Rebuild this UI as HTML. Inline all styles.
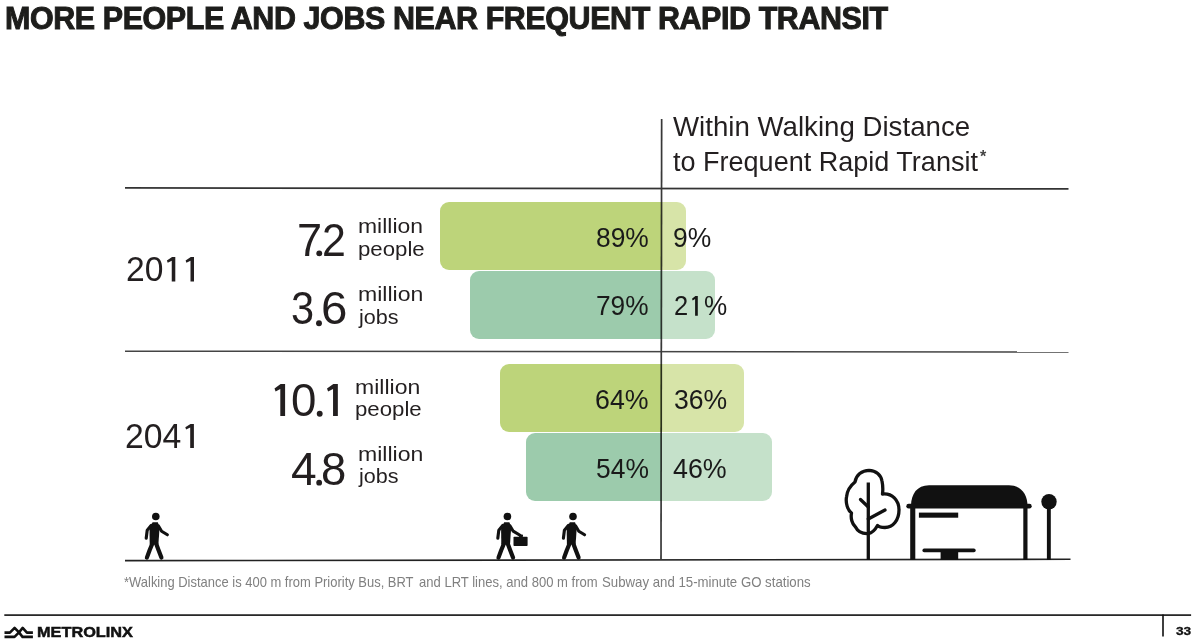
<!DOCTYPE html>
<html><head><meta charset="utf-8">
<style>
html,body{margin:0;padding:0;background:#fff;}
body{width:1200px;height:642px;position:relative;overflow:hidden;font-family:"Liberation Sans",sans-serif;color:#231f20;}
.t{position:absolute;white-space:nowrap;line-height:1;transform-origin:0 0;}
.b{font-weight:bold;}
.bar{position:absolute;height:68px;border-radius:9px;overflow:hidden;}
svg{position:absolute;left:0;top:0;}
</style></head><body>
<div class="bar" style="left:440px;top:201.5px;width:246px;background:linear-gradient(to right,#bdd47a 0 221px,#d7e4a8 221px);"></div>
<div class="bar" style="left:470px;top:270.5px;width:245px;background:linear-gradient(to right,#9ccbac 0 191px,#c5e1ca 191px);"></div>
<div class="bar" style="left:499.5px;top:364px;width:244.5px;background:linear-gradient(to right,#bdd47a 0 162px,#d7e4a8 162px);"></div>
<div class="bar" style="left:526px;top:433px;width:246px;background:linear-gradient(to right,#9ccbac 0 135px,#c5e1ca 135px);"></div>
<svg width="1200" height="642" viewBox="0 0 1200 642" style="mix-blend-mode:multiply">
  <defs>
    <g id="walker">
      <circle cx="155.8" cy="516.5" r="3.8"/>
      <path d="M152.6 522.3 L157.8 522.3 L159.6 527 L158.4 544.5 L149.7 544.5 L149.5 528.3 Z"/>
      <g fill="none" stroke="#111" stroke-linecap="round" stroke-linejoin="round">
        <polyline points="151.3,525.3 147.2,530.2 146.2,538.3" stroke-width="3.1"/>
        <polyline points="152.6,543 149.6,550.2 146.9,557.6" stroke-width="4.2"/>
        <polyline points="155.9,543 158.6,550.2 161.4,557.6" stroke-width="4.2"/>
      </g>
    </g>
  </defs>
  <g fill="#111" stroke="#111">
    <line x1="125" y1="187.9" x2="1068.5" y2="188.85" stroke="#333" stroke-width="1.75"/>
    <line x1="125" y1="351.25" x2="1068.5" y2="352.0" stroke="#444" stroke-width="1.5"/>
    <line x1="125" y1="560.65" x2="1070.5" y2="559.3" stroke="#222" stroke-width="1.6"/>
    <line x1="661.65" y1="119" x2="661.0" y2="560" stroke="#383838" stroke-width="1.7"/>
    <rect x="4.3" y="614.3" width="1186.8" height="1.6" stroke="none" fill="#111"/>
    <rect x="1162.2" y="614.5" width="1.6" height="22" stroke="none"/>

    <!-- walkers -->
    <g stroke="none"><use href="#walker"/></g>
    <polyline points="158.5,526 161.6,531.2 167.4,534.8" fill="none" stroke-width="3.1" stroke-linecap="round" stroke-linejoin="round"/>
    <g stroke="none" transform="translate(351.6 0)"><use href="#walker"/></g>
    <polyline points="510.1,526 513.2,531.2 519.6,535" fill="none" stroke-width="3.1" stroke-linecap="round" stroke-linejoin="round"/>
    <rect x="513.5" y="536.7" width="14.1" height="9.3" rx="0.8" stroke="none"/>
    <rect x="519" y="534.6" width="4" height="2.4" rx="0.8" stroke="none"/>
    <g stroke="none" transform="translate(417.2 0)"><use href="#walker"/></g>
    <polyline points="575.7,526 578.8,531.2 584.6,534.8" fill="none" stroke-width="3.1" stroke-linecap="round" stroke-linejoin="round"/>

    <!-- tree -->
    <g fill="none" stroke-width="3.3" stroke-linecap="round" stroke-linejoin="round">
      <path d="M868.5 533.5 C862 534 857.5 531 855.5 527 C852 524 850.5 518 851.5 513 C847.5 510 845.5 503 846.5 497 C847 491 850 486 855 482 C856 475 862 470.3 869 470.3 C876 470.5 881 475 882 481 C883 486 883 490 882.5 494 C892 493 899 500 899 510 C899 520 893 527.5 885 527.5 C881 527.5 878.5 526.5 877.5 525.5 C875 530 872 533 868.5 533.5 Z"/>
      <line x1="868.3" y1="482.5" x2="868.3" y2="560" stroke-linecap="butt"/>
      <line x1="860.5" y1="499.5" x2="868.3" y2="507"/>
      <line x1="868.3" y1="519" x2="885" y2="510"/>
    </g>

    <!-- shelter -->
    <g stroke="none">
      <path d="M911 506 C911 494 917 485.3 929 485.3 L1009 485.3 C1021 485.3 1027.5 494 1027.5 506 Z"/>
      <rect x="906.3" y="503.8" width="125.4" height="4.8" rx="2.4"/>
      <rect x="910.2" y="506" width="5.1" height="54"/>
      <rect x="1023.3" y="506" width="4.2" height="54"/>
      <rect x="918.9" y="512.6" width="39.3" height="5.1"/>
      <rect x="922.4" y="548.6" width="53.3" height="3.6" rx="1.8"/>
      <rect x="940.6" y="551" width="17.6" height="9"/>
      <circle cx="1049" cy="501.8" r="7.7"/>
      <rect x="1046.9" y="502" width="3.9" height="58"/>
    </g>

    <!-- ones -->
    <g stroke="none" fill="#231f20">
      <path d="M285.10 384.1 L285.10 415.9 L280.30 415.9 L280.30 388.9 L275.60 391.5 L274.50 388.5 L280.60 384.1 Z"/>
      <path d="M337.85 384.1 L337.85 415.9 L333.05 415.9 L333.05 388.9 L328.10 391.5 L327.00 388.5 L333.35 384.1 Z"/>
      <path d="M175.30 257.10 L175.30 281.40 L171.75 281.40 L171.75 260.70 L167.72 262.63 L166.90 260.40 L172.05 257.10 Z"/>
      <path d="M194.00 257.10 L194.00 281.40 L190.50 281.40 L190.50 260.70 L186.42 262.63 L185.60 260.40 L190.80 257.10 Z"/>
      <path d="M193.90 424.00 L193.90 448.00 L190.20 448.00 L190.20 427.55 L186.11 429.46 L185.30 427.26 L190.50 424.00 Z"/>
      <path fill="#1a1a1a" d="M697.80 296.10 L697.80 315.70 L695.10 315.70 L695.10 299.00 L692.66 300.56 L692.00 298.76 L695.40 296.10 Z"/>
    </g>
    <g stroke="none" fill="#231f20">
      <circle cx="319.25" cy="253.4" r="2.95"/>
      <circle cx="319.0" cy="323.2" r="2.95"/>
      <circle cx="319.7" cy="413.7" r="2.95"/>
      <circle cx="319.15" cy="482.7" r="2.9"/>
    </g>
    <!-- metrolinx logo -->
    <g fill="none" stroke-width="2.6" stroke-linejoin="round">
      <polyline points="4.5,632.6 9.9,632.6 14.6,627.9 19,632.4 22.5,636.9 32.9,636.9"/>
      <polyline points="4.5,636.9 14.5,636.9 19,632.4 22.7,627.9 26.9,632.6 32.9,632.6"/>
    </g>
  </g>
</svg>

<div id="title" class="t m b" style="left:5.38px;top:2.50px;font-size:31.00px;transform:scaleX(0.9815);letter-spacing:-0.4px;color:#1d1d1b;-webkit-text-stroke:1.0px #1d1d1b;">MORE PEOPLE AND JOBS NEAR FREQUENT RAPID TRANSIT</div>
<div id="h1" class="t m" style="left:673.32px;top:112.70px;font-size:27.50px;transform:scaleX(1.0055);">Within Walking Distance</div>
<div id="h2" class="t m" style="left:673.30px;top:148.00px;font-size:27.50px;transform:scaleX(0.9827);">to Frequent Rapid Transit</div>
<div id="ast" class="t m b" style="left:980.21px;top:147.55px;font-size:16.45px;transform:scaleX(0.9839);color:#444;">*</div>
<div id="y2011" class="t m" style="left:125.70px;top:252.30px;font-size:35.60px;transform:scaleX(0.9454);">20</div>
<div id="y2041" class="t m" style="left:125.39px;top:418.95px;font-size:35.60px;transform:scaleX(0.9486);">204</div>
<div id="m1a" class="t m" style="left:358.06px;top:214.94px;font-size:21.00px;transform:scaleX(1.0927);">million</div>
<div id="m1b" class="t m" style="left:357.62px;top:238.05px;font-size:21.00px;transform:scaleX(1.0575);">people</div>
<div id="m2a" class="t m" style="left:358.39px;top:282.80px;font-size:21.00px;transform:scaleX(1.0983);">million</div>
<div id="m2b" class="t m" style="left:358.99px;top:305.50px;font-size:21.00px;transform:scaleX(1.0275);">jobs</div>
<div id="m3a" class="t m" style="left:354.94px;top:375.83px;font-size:21.00px;transform:scaleX(1.0971);">million</div>
<div id="m3b" class="t m" style="left:354.52px;top:398.35px;font-size:21.00px;transform:scaleX(1.0575);">people</div>
<div id="m4a" class="t m" style="left:358.39px;top:442.80px;font-size:21.00px;transform:scaleX(1.0983);">million</div>
<div id="m4b" class="t m" style="left:358.99px;top:465.00px;font-size:21.00px;transform:scaleX(1.0275);">jobs</div>
<div id="p1" class="t m" style="left:596.36px;top:224.10px;font-size:27.50px;transform:scaleX(0.9603);color:#1a1a1a;">89%</div>
<div id="q1" class="t m" style="left:673.19px;top:224.10px;font-size:27.50px;transform:scaleX(0.9616);color:#1a1a1a;">9%</div>
<div id="p2" class="t m" style="left:596.06px;top:292.00px;font-size:27.50px;transform:scaleX(0.9550);color:#1a1a1a;">79%</div>
<div id="p3" class="t m" style="left:595.08px;top:386.10px;font-size:27.50px;transform:scaleX(0.9727);color:#1a1a1a;">64%</div>
<div id="q3" class="t m" style="left:673.76px;top:386.10px;font-size:27.50px;transform:scaleX(0.9667);color:#1a1a1a;">36%</div>
<div id="p4" class="t m" style="left:595.70px;top:454.75px;font-size:27.50px;transform:scaleX(0.9613);color:#1a1a1a;">54%</div>
<div id="q4" class="t m" style="left:673.42px;top:454.75px;font-size:27.50px;transform:scaleX(0.9763);color:#1a1a1a;">46%</div>
<div id="logo" class="t m b" style="left:37.36px;top:623.90px;font-size:15.40px;transform:scaleX(1.0591);color:#111;-webkit-text-stroke:0.5px #111;">METROLINX</div>
<div id="pg" class="t m b" style="left:1175.92px;top:625.88px;font-size:11.49px;transform:scaleX(1.1918);color:#111;-webkit-text-stroke:0.3px #111;">33</div>
<div id="n1a" class="t m" style="left:296.90px;top:216.80px;font-size:46.00px;transform:scaleX(0.9812);">7</div>
<div id="n1c" class="t m" style="left:322.34px;top:216.80px;font-size:46.00px;transform:scaleX(0.9325);">2</div>
<div id="n2a" class="t m" style="left:291.15px;top:285.00px;font-size:46.00px;transform:scaleX(0.9026);">3</div>
<div id="n2c" class="t m" style="left:321.14px;top:285.00px;font-size:46.00px;transform:scaleX(1.0313);">6</div>
<div id="n3b" class="t m" style="left:291.05px;top:377.45px;font-size:46.00px;transform:scaleX(0.9929);">0</div>
<div id="n4a" class="t m" style="left:291.49px;top:446.20px;font-size:46.00px;transform:scaleX(1.0031);">4</div>
<div id="n4c" class="t m" style="left:321.22px;top:446.20px;font-size:46.00px;transform:scaleX(0.9894);">8</div>
<div id="q2a" class="t m" style="left:673.68px;top:292.00px;font-size:27.50px;transform:scaleX(0.9282);color:#1a1a1a;">2</div>
<div id="q2c" class="t m" style="left:703.87px;top:292.00px;font-size:27.50px;transform:scaleX(0.9489);color:#1a1a1a;">%</div>
<div id="foot1" class="t m" style="left:123.92px;top:574.80px;font-size:14.20px;transform:scaleX(0.9135);color:#808080;">*Walking Distance is 400 m from Priority Bus, BRT</div>
<div id="foot2" class="t m" style="left:419.11px;top:574.80px;font-size:14.20px;transform:scaleX(0.9193);color:#808080;">and LRT lines, and 800 m from</div>
<div id="foot3" class="t m" style="left:602.40px;top:574.80px;font-size:14.20px;transform:scaleX(0.9317);color:#808080;">Subway and 15-minute GO stations</div>
</body></html>
